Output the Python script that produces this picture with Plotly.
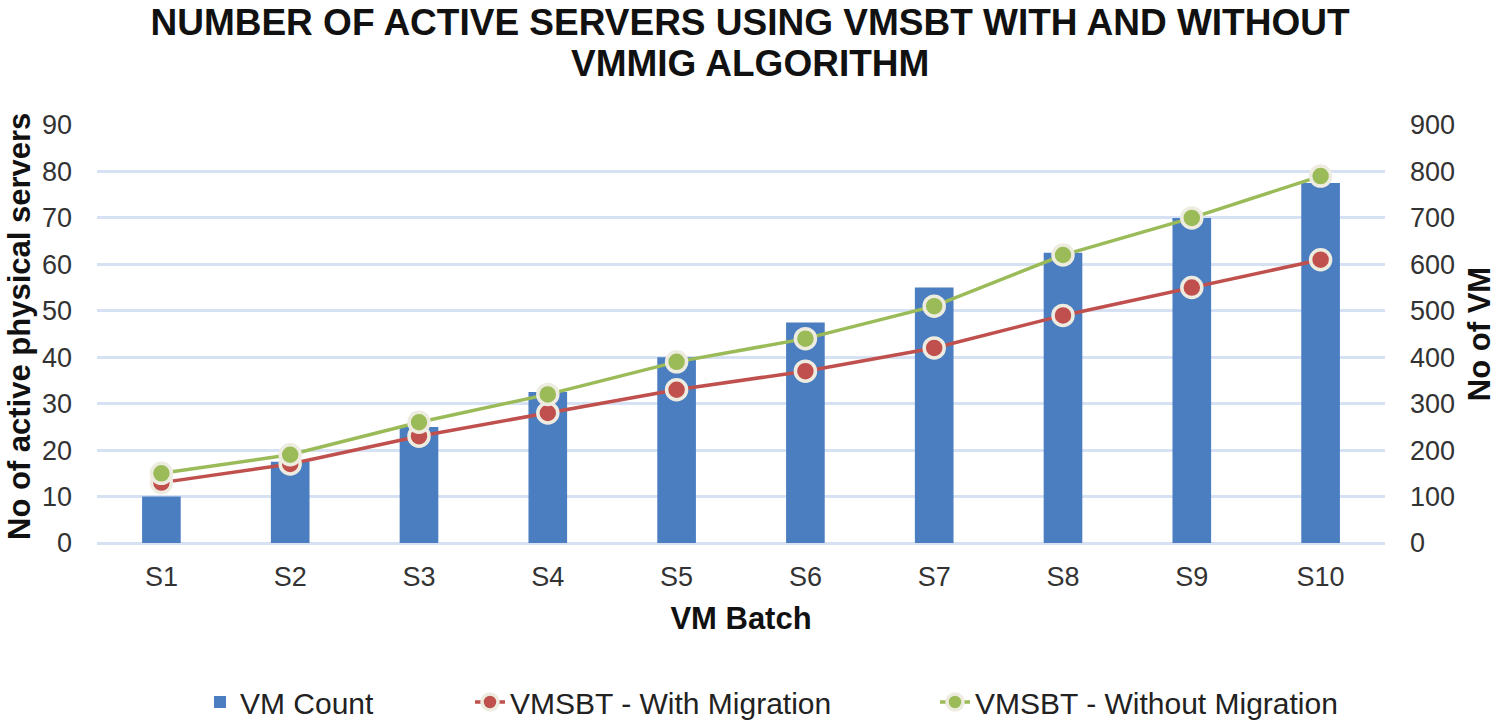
import plotly.graph_objects as go

batches = ["S1", "S2", "S3", "S4", "S5", "S6", "S7", "S8", "S9", "S10"]
vm_count = [100, 175, 250, 325, 400, 475, 550, 625, 700, 775]
with_migration = [13, 17, 23, 28, 33, 37, 42, 49, 55, 61]
without_migration = [15, 19, 26, 32, 39, 44, 51, 62, 70, 79]

FONT = "Liberation Sans, Arial, sans-serif"
GRID = "#D6E2F3"

W, H = 1500, 722
PLOT_L, PLOT_R, PLOT_T, PLOT_B = 97, 1385, 125, 543

fig = go.Figure()
fig.add_trace(go.Bar(
    x=batches, y=vm_count, name="VM Count", yaxis="y",
    marker=dict(color="#4A7EC0", line=dict(width=0)), width=0.3,
    legend="legend",
))
fig.add_trace(go.Scatter(
    x=batches, y=with_migration, name="VMSBT - With Migration", yaxis="y2",
    mode="lines+markers",
    line=dict(color="#C0504D", width=3.5),
    marker=dict(size=20, color="#C0504D", line=dict(color="#EEECE1", width=3.5)),
    legend="legend2",
))
fig.add_trace(go.Scatter(
    x=batches, y=without_migration, name="VMSBT - Without Migration", yaxis="y2",
    mode="lines+markers",
    line=dict(color="#9BBB59", width=3.5),
    marker=dict(size=20, color="#9BBB59", line=dict(color="#EEECE1", width=3.5)),
    legend="legend3",
))

legend_y = (H - 702) / H
def leg(xpix):
    return dict(
        orientation="h", x=xpix / W, xanchor="left", xref="container",
        y=legend_y, yanchor="middle", yref="container",
        font=dict(size=30, color="#222222"), bgcolor="rgba(0,0,0,0)",
    )

fig.update_layout(
    width=W, height=H,
    margin=dict(l=PLOT_L, r=W - PLOT_R, t=PLOT_T, b=H - PLOT_B, autoexpand=False),
    paper_bgcolor="white", plot_bgcolor="white",
    font=dict(family=FONT, color="#222222", size=26),
    title=dict(
        text="<b>NUMBER OF ACTIVE SERVERS USING VMSBT WITH AND WITHOUT</b>",
        x=0.5, xanchor="center", xref="container",
        y=1 - 22 / H, yanchor="middle", yref="container",
        font=dict(family=FONT, size=37, color="#111111"),
    ),
    xaxis=dict(
        range=[-0.5, 9.5],
        showgrid=False, showline=False, zeroline=False, automargin=False,
        tickfont=dict(size=27, color="#333333"),
        title=dict(text="<b>VM Batch</b>", font=dict(size=31, color="#111111"), standoff=16),
        ticks="", ticklabelstandoff=15,
    ),
    yaxis=dict(
        side="right", range=[0, 900], dtick=100, automargin=False,
        showgrid=True, gridcolor=GRID, gridwidth=2.5,
        zeroline=True, zerolinecolor=GRID, zerolinewidth=2.5,
        showline=False, ticks="",
        tickfont=dict(size=27, color="#333333"),
        title=dict(text="<b>No of VM</b>", font=dict(size=31, color="#111111"), standoff=14),
        ticklabelstandoff=24,
    ),
    yaxis2=dict(
        side="left", overlaying="y", range=[0, 90], dtick=10, automargin=False,
        showgrid=False, zeroline=False, showline=False, ticks="",
        tickfont=dict(size=27, color="#333333"),
        ticklabelstandoff=24,
    ),
    legend=leg(200),
    legend2=leg(470),
    legend3=leg(935),
    showlegend=True,
    annotations=[
        dict(
            text="<b>VMMIG ALGORITHM</b>", showarrow=False,
            xref="paper", x=(750 - PLOT_L) / (PLOT_R - PLOT_L), xanchor="center",
            yref="paper", y=1, yanchor="middle", yshift=PLOT_T - 63,
            font=dict(family=FONT, size=37, color="#111111"),
        ),
        dict(
            text="<b>No of active physical servers</b>", showarrow=False, textangle=-90,
            xref="paper", x=0, xanchor="center", xshift=19 - PLOT_L,
            yref="paper", y=0.5, yanchor="middle", yshift=7,
            font=dict(family=FONT, size=31, color="#111111"),
        ),
    ],
)

fig.write_html(
    "out.html",
    config={"displayModeBar": False},
    post_script="document.body.style.margin='0px';",
)
